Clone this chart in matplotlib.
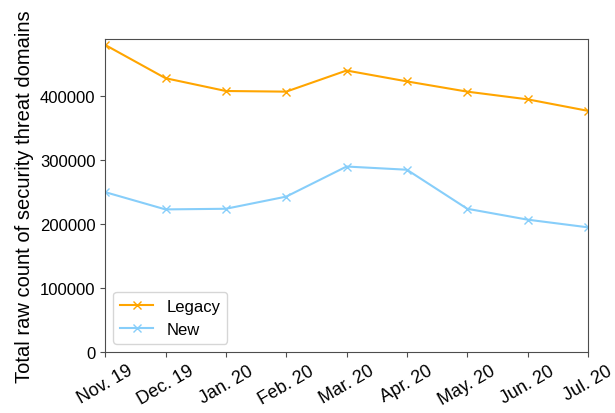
import matplotlib
matplotlib.use("Agg")
import matplotlib.pyplot as plt

plt.rcParams["font.family"] = ["Liberation Sans", "DejaVu Sans"]
plt.rcParams["axes.edgecolor"] = "#4d4d4d"
plt.rcParams["xtick.color"] = "#4d4d4d"
plt.rcParams["ytick.color"] = "#4d4d4d"
plt.rcParams["xtick.labelcolor"] = "black"
plt.rcParams["ytick.labelcolor"] = "black"

months = ["Nov. 19", "Dec. 19", "Jan. 20", "Feb. 20", "Mar. 20",
          "Apr. 20", "May. 20", "Jun. 20", "Jul. 20"]
legacy = [480000, 428000, 408000, 407000, 440000, 423000, 407000, 395000, 377000]
new = [250000, 223000, 224000, 243000, 290000, 285000, 224000, 207000, 195000]

fig, ax = plt.subplots(figsize=(6.15, 4.14), dpi=100)
x = range(len(months))
ax.plot(x, legacy, color="orange", marker="x", label="Legacy")
ax.plot(x, new, color="lightskyblue", marker="x", label="New")

ax.set_xticks(list(x))
ax.set_xticklabels(months, rotation=30, fontsize=13)
ax.tick_params(axis="y", labelsize=12)
ax.margins(x=0)
ax.set_ylim(bottom=0, top=489000)
ax.set_ylabel("Total raw count of security threat domains", fontsize=14.5)
ax.legend(loc="lower left", fontsize=12)

fig.subplots_adjust(left=0.171, right=0.956, top=0.903, bottom=0.147)
fig.savefig("out.png")
